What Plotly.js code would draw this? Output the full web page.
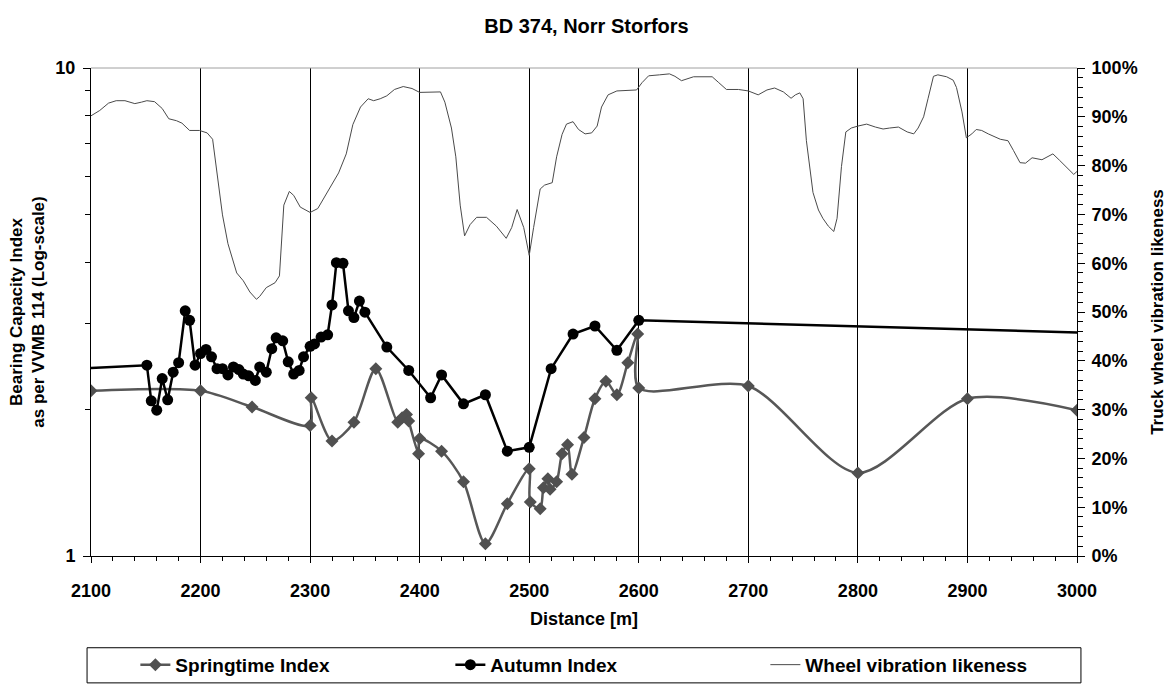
<!DOCTYPE html>
<html>
<head>
<meta charset="utf-8">
<script src="https://cdn.plot.ly/plotly-3.0.1.min.js"></script>
<style>html,body{margin:0;padding:0;background:#fff;}#chart{width:1173px;height:696px;}</style>
</head>
<body>
<div id="chart"></div>
<script>
// Springtime Index (Bearing Capacity Index, log scale)
const springDist = [2100, 2200, 2247, 2300, 2301, 2320, 2340, 2360, 2380, 2384, 2388, 2390, 2399, 2400, 2420, 2440, 2460, 2480, 2500, 2501, 2510, 2513, 2517, 2519, 2525, 2530, 2535, 2539, 2550, 2560, 2570, 2580, 2590, 2599, 2600, 2700, 2800, 2900, 3000];
const springIdx  = [2.18, 2.18, 2.02, 1.85, 2.11, 1.72, 1.88, 2.42, 1.88, 1.92, 1.95, 1.89, 1.62, 1.74, 1.64, 1.42, 1.06, 1.28, 1.51, 1.29, 1.25, 1.38, 1.44, 1.37, 1.42, 1.62, 1.69, 1.47, 1.75, 2.10, 2.28, 2.14, 2.49, 2.85, 2.21, 2.23, 1.48, 2.10, 1.99];

// Autumn Index
const autumnDist = [2000, 2151, 2155, 2160, 2165, 2170, 2175, 2180, 2186, 2190, 2195, 2200, 2205, 2210, 2215, 2220, 2225, 2230, 2235, 2239, 2244, 2250, 2254, 2260, 2265, 2269, 2275, 2280, 2285, 2290, 2294, 2300, 2304, 2310, 2316, 2320, 2324, 2330, 2335, 2340, 2345, 2350, 2370, 2390, 2410, 2420, 2440, 2460, 2480, 2500, 2520, 2540, 2560, 2580, 2600, 3100];
const autumnIdx  = [2.37, 2.46, 2.08, 1.99, 2.31, 2.09, 2.38, 2.49, 3.18, 3.04, 2.46, 2.60, 2.65, 2.56, 2.42, 2.42, 2.35, 2.44, 2.41, 2.36, 2.34, 2.29, 2.44, 2.38, 2.66, 2.80, 2.76, 2.50, 2.36, 2.40, 2.56, 2.69, 2.72, 2.81, 2.84, 3.27, 3.99, 3.98, 3.18, 3.08, 3.33, 3.16, 2.68, 2.40, 2.11, 2.35, 2.05, 2.14, 1.64, 1.67, 2.42, 2.85, 2.96, 2.64, 3.04, 2.83];

// Wheel vibration likeness (%)
const wheelDist = [2100, 2108, 2116, 2123, 2131, 2140, 2146, 2151, 2158, 2165, 2171, 2178, 2183, 2190, 2199, 2206, 2211, 2213, 2216, 2220, 2225, 2233, 2239, 2245, 2251, 2254, 2260, 2268, 2272, 2274, 2276, 2281, 2285, 2291, 2300, 2307, 2317, 2326, 2333, 2339, 2346, 2353, 2358, 2364, 2370, 2377, 2385, 2393, 2400, 2409, 2419, 2423, 2429, 2433, 2437, 2441, 2446, 2452, 2461, 2470, 2479, 2484, 2489, 2495, 2500, 2504, 2510, 2514, 2521, 2525, 2530, 2534, 2540, 2545, 2551, 2557, 2562, 2566, 2572, 2580, 2589, 2598, 2603, 2609, 2619, 2628, 2633, 2639, 2650, 2667, 2673, 2680, 2691, 2700, 2709, 2717, 2724, 2732, 2739, 2743, 2747, 2750, 2753, 2756, 2759, 2764, 2768, 2773, 2778, 2781, 2785, 2789, 2794, 2800, 2808, 2816, 2823, 2829, 2837, 2845, 2851, 2855, 2860, 2864, 2869, 2873, 2881, 2887, 2890, 2895, 2899, 2904, 2908, 2913, 2919, 2930, 2937, 2942, 2948, 2953, 2959, 2968, 2974, 2978, 2984, 2992, 2997, 3000];
const wheelPct  = [90.2, 91.3, 92.8, 93.3, 93.3, 92.7, 93.0, 93.3, 93.1, 91.7, 89.6, 89.2, 88.7, 87.2, 87.2, 86.7, 85.4, 81.8, 76.5, 69.9, 64.0, 58.0, 56.4, 54.1, 52.6, 53.2, 55.0, 56.0, 57.4, 64.6, 71.9, 74.7, 73.9, 71.5, 70.4, 71.2, 75.2, 78.5, 82.4, 88.4, 92.0, 93.7, 93.3, 93.7, 94.3, 95.6, 96.2, 95.8, 95.0, 95.0, 95.1, 93.0, 87.7, 81.8, 71.9, 65.6, 67.9, 69.4, 69.4, 67.6, 65.1, 67.3, 71.0, 67.3, 61.6, 67.3, 75.2, 76.0, 76.5, 81.8, 86.4, 88.5, 89.0, 87.4, 86.5, 86.7, 88.1, 92.0, 94.5, 95.3, 95.4, 95.5, 97.0, 98.4, 98.6, 98.8, 98.3, 97.4, 98.2, 98.2, 97.0, 95.6, 95.6, 95.3, 94.5, 95.5, 95.9, 95.1, 93.8, 94.5, 94.9, 93.7, 85.1, 79.8, 74.5, 70.9, 69.2, 67.6, 66.5, 69.2, 79.8, 86.9, 87.7, 88.1, 88.5, 87.9, 87.5, 87.7, 87.9, 86.9, 86.5, 87.7, 90.0, 93.7, 98.3, 98.6, 98.2, 97.5, 96.0, 91.0, 85.7, 86.5, 87.4, 87.2, 86.5, 85.4, 85.1, 83.1, 80.6, 80.5, 81.6, 81.2, 81.9, 82.4, 81.1, 79.3, 78.2, 78.8];

const FONT = 'Liberation Sans, Arial, sans-serif';

const traces = [
  {
    x: wheelDist, y: wheelPct, yaxis: 'y2', type: 'scatter', mode: 'lines',
    name: 'Wheel vibration likeness', legendrank: 3,
    line: {color: '#4a4a4a', width: 1}
  },
  {
    x: springDist, y: springIdx, type: 'scatter', mode: 'lines+markers',
    name: 'Springtime Index', legendrank: 1,
    line: {color: '#575757', width: 2.5, shape: 'spline', smoothing: 0.8},
    marker: {symbol: 'diamond', size: 10, color: '#505050'}
  },
  {
    x: autumnDist, y: autumnIdx, type: 'scatter', mode: 'lines+markers',
    name: 'Autumn Index', legendrank: 2,
    line: {color: '#000000', width: 2.5},
    marker: {symbol: 'circle', size: 11, color: '#000000'}
  }
];

const layout = {
  width: 1173, height: 696,
  margin: {l: 91, r: 96, t: 68, b: 123},
  paper_bgcolor: '#ffffff', plot_bgcolor: '#ffffff',
  font: {family: FONT, color: '#000', size: 17},
  showlegend: true,
  title: {text: '<b>BD 374, Norr Storfors</b>', x: 0.5, xanchor: 'center', y: 0.963, yanchor: 'middle', font: {family: FONT, size: 20, color: '#000'}},
  xaxis: {
    range: [2100, 3000], dtick: 100, tick0: 2100,
    showgrid: true, gridcolor: '#000', gridwidth: 1,
    showline: true, linecolor: '#000', linewidth: 1,
    ticks: 'outside', ticklen: 6, tickcolor: '#000',
    ticklabelstandoff: 12,
    minor: {dtick: 20, ticks: 'outside', ticklen: 4, tickcolor: '#000', showgrid: false},
    tickfont: {family: FONT, size: 18, color: '#000', weight: 'bold'},
    zeroline: false,
    title: {text: '<b>Distance [m]</b>', font: {family: FONT, size: 18, color: '#000'}, standoff: 12}
  },
  yaxis: {
    type: 'log', range: [0, 1],
    tickvals: [1, 10], ticktext: ['<b>1</b>', '<b>10</b>'],
    showgrid: false, zeroline: false,
    showline: true, linecolor: '#000', linewidth: 1,
    ticks: 'outside', ticklen: 7, tickcolor: '#000',
    ticklabelstandoff: 4,
    minor: {tickvals: [2, 3, 4, 5, 6, 7, 8, 9], ticks: 'outside', ticklen: 5, tickcolor: '#000', showgrid: false},
    tickfont: {family: FONT, size: 18, color: '#000'},
    title: {text: '<b>Bearing Capacity Index<br>as per VVMB 114 (Log-scale)</b>', font: {family: FONT, size: 17, color: '#000'}, standoff: 6}
  },
  yaxis2: {
    overlaying: 'y', side: 'right', range: [0, 100],
    dtick: 10, ticksuffix: '%',
    showgrid: false, zeroline: false,
    showline: true, linecolor: '#000', linewidth: 1,
    ticks: 'outside', ticklen: 7, tickcolor: '#000',
    ticklabelstandoff: 3,
    minor: {dtick: 2, ticks: 'outside', ticklen: 5, tickcolor: '#000', showgrid: false},
    tickfont: {family: FONT, size: 18, color: '#000', weight: 'bold'},
    title: {text: '<b>Truck wheel vibration likeness</b>', font: {family: FONT, size: 17, color: '#000'}, standoff: 14}
  },
  legend: {
    orientation: 'h', x: 0.045, xanchor: 'left', y: -0.184, yanchor: 'top',
    entrywidth: 270, entrywidthmode: 'pixels',
    bgcolor: 'rgba(0,0,0,0)', borderwidth: 0,
    font: {family: FONT, size: 19, color: '#000', weight: 'bold'},
    traceorder: 'normal'
  },
  shapes: [
    {type: 'line', xref: 'paper', yref: 'paper', x0: 0, x1: 1, y0: 1, y1: 1, line: {color: '#a0a0a0', width: 1}},
    {type: 'rect', xref: 'paper', yref: 'paper', x0: -0.004, x1: 1.004, y0: -0.188, y1: -0.26, line: {color: '#000', width: 1}, fillcolor: 'rgba(0,0,0,0)'}
  ]
};

Plotly.newPlot('chart', traces, layout, {displayModeBar: false, staticPlot: true});
</script>
</body>
</html>
